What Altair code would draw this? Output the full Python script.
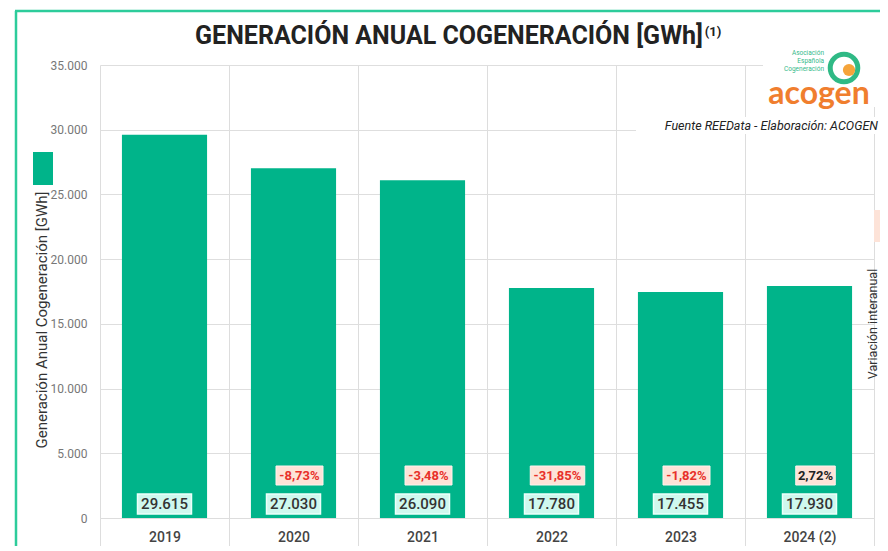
import altair as alt
import pandas as pd

years = ["2019", "2020", "2021", "2022", "2023", "2024 (2)"]
generation = [29615, 27030, 26090, 17780, 17455, 17930]
variation = [None, -8.73, -3.48, -31.85, -1.82, 2.72]
y_ticks = [0, 5000, 10000, 15000, 20000, 25000, 30000, 35000]

BAR = "#00b48a"
FRAME = "#2dcc9b"
FONT = "Roboto"

df = pd.DataFrame({"year": years, "gen": generation})
df["gen_label"] = [f"{v:,}".replace(",", ".") for v in generation]

pct_rows = []
for y, p in zip(years, variation):
    if p is None:
        continue
    lab = f"{p:.2f}%".replace(".", ",")
    w = 7.5 * len(lab) + 2
    h = 19
    pct_rows.append({
        "year": y,
        "pct": p,
        "pct_label": lab,
        "box": f"M{-w/2},{-h/2}h{w}v{h}h{-w}Z",
        "tcolor": "#e8302a" if p < 0 else "#222222",
    })
pdf = pd.DataFrame(pct_rows)

W, H = 774, 453
xscale = alt.Scale(paddingInner=0, paddingOuter=0)
xenc = alt.X(
    "year:N",
    sort=years,
    scale=xscale,
    axis=alt.Axis(
        title=None, labelAngle=0, labelFont=FONT, labelFontSize=14,
        labelFontWeight=500, labelColor="#444444", domainColor="#dddddd",
        tickColor="#dddddd", tickSize=33, tickBand="extent", grid=True,
        gridColor="#dddddd", labelPadding=-21,
    ),
)
xplain = alt.X("year:N", sort=years, scale=xscale)
yenc = alt.Y(
    "gen:Q",
    scale=alt.Scale(domain=[0, 35000], nice=False),
    axis=alt.Axis(
        title=None, values=y_ticks, labelFont=FONT, labelFontSize=12,
        labelColor="#777777", domain=False, ticks=False, labelPadding=13,
        gridColor="#dedede",
        labelExpr="replace(format(datum.value, ','), ',', '.')",
    ),
)

bars = alt.Chart(df).mark_bar(color=BAR, width=alt.RelativeBandSize(0.66)).encode(x=xenc, y=yenc)

val_box = alt.Chart(df).mark_bar(width=54, fill="#cff8ee", stroke="#ecfffa", strokeWidth=1.5).encode(
    x=xplain, y=alt.value(429), y2=alt.value(449)
)
val_text = alt.Chart(df).mark_text(font=FONT, fontSize=15, fontWeight=500, color="#333333", baseline="middle").encode(
    x=xplain, y=alt.value(439), text="gen_label:N"
)

pct_box = alt.Chart(pdf).mark_point(filled=True, fill="#fde3d8", stroke="#fff3ee", strokeWidth=1, opacity=1, size=4, xOffset=6).encode(
    x=xplain, y=alt.value(410.5), shape=alt.Shape("box:N", scale=None)
)
pct_text = alt.Chart(pdf).mark_text(font=FONT, fontSize=13, fontWeight="bold", baseline="middle", dx=6).encode(
    x=xplain, y=alt.value(410.5), text="pct_label:N",
    color=alt.Color("tcolor:N", scale=None),
)

one = alt.Data(values=[{}])

def txt(text, x, y, **kw):
    return alt.Chart(one).mark_text(text=text, **kw).encode(x=alt.value(x), y=alt.value(y))

def rect(x, x2, y, y2, **kw):
    return alt.Chart(one).mark_rect(**kw).encode(
        x=alt.value(x), x2=alt.value(x2), y=alt.value(y), y2=alt.value(y2)
    )

frame_left = alt.Chart(one).mark_rule(color=FRAME, strokeWidth=2.5).encode(
    x=alt.value(-84), y=alt.value(-54), y2=alt.value(500)
)
frame_top = alt.Chart(one).mark_rule(color=FRAME, strokeWidth=2.5).encode(
    x=alt.value(-85), x2=alt.value(800), y=alt.value(-54)
)

title = txt("GENERACIÓN ANUAL COGENERACIÓN [GWh]", 349, -29, font=FONT, fontSize=25,
            fontWeight="bold", color="#222222", align="center", baseline="middle")
title_sup = txt("(1)", 613, -33, font=FONT, fontSize=13, fontWeight="bold",
                color="#222222", align="center", baseline="middle")

logo_bg = rect(663, 790, -15, 42, fill="white")
logo_ring = alt.Chart(one).mark_point(shape="circle", size=760, filled=False, stroke="#2fb985",
                                       strokeWidth=5, opacity=1).encode(x=alt.value(744), y=alt.value(3))
logo_dot = alt.Chart(one).mark_point(shape="circle", size=150, filled=True, fill="#f5a43a",
                                      opacity=1).encode(x=alt.value(749), y=alt.value(5))
logo_word = txt("acogen", 719, 39, font="Lato", fontSize=32, fontWeight="bold", color="#f07e2e",
                align="center", baseline="alphabetic")
logo_s1 = txt("Asociación", 724, -12, font=FONT, fontSize=6.5, color="#34b98a", align="right", baseline="middle")
logo_s2 = txt("Española", 724, -4, font=FONT, fontSize=6.5, color="#34b98a", align="right", baseline="middle")
logo_s3 = txt("Cogeneración", 724, 4, font=FONT, fontSize=6.5, color="#34b98a", align="right", baseline="middle")

src_bg = rect(536, 782, 52, 69, fill="white")
source = txt("Fuente REEData - Elaboración: ACOGEN", 778, 61, font=FONT, fontSize=12.5,
             fontStyle="italic", color="#222222", align="right", baseline="middle")

left_sw = rect(-67, -47, 87, 120, fill=BAR)
ytitle = txt("Generación Anual Cogeneración [GWh]", -58, 255, font=FONT, fontSize=15,
             color="#333333", angle=270, align="center", baseline="middle")
right_sw = rect(774, 790, 145, 177, fill="#fde3d8")
rtitle = txt("Variación interanual", 773, 259, font=FONT, fontSize=12.5,
             color="#333333", angle=270, align="center", baseline="middle")

chart = alt.layer(
    frame_left, frame_top, bars, val_box, val_text, pct_box, pct_text,
    title, title_sup, logo_bg, logo_ring, logo_dot, logo_word, logo_s1, logo_s2, logo_s3,
    src_bg, source, left_sw, ytitle, right_sw, rtitle,
).properties(
    width=W, height=H,
    autosize=alt.AutoSizeParams(type="none"),
    padding={"left": 92, "top": 57, "right": 6, "bottom": 28},
    background="white",
).configure_view(stroke=None)

chart.save("out.html", embed_options={"renderer": "svg", "actions": False})
